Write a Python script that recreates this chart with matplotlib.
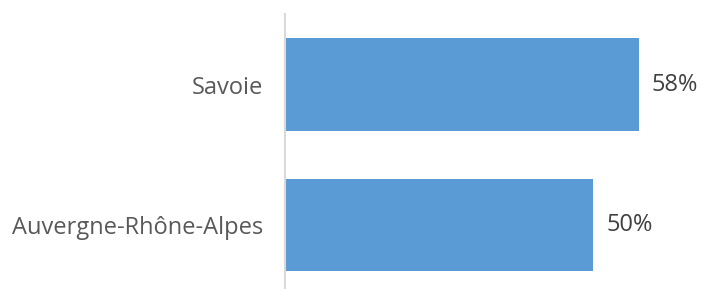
import matplotlib
matplotlib.use("Agg")
import matplotlib.pyplot as plt

categories = ["Auvergne-Rhône-Alpes", "Savoie"]
values = [0.505, 0.58]
value_labels = ["50%", "58%"]

fig = plt.figure(figsize=(7.01, 2.89), dpi=100)
W, H = 701, 289
ax = fig.add_axes([285 / W, 1 - 288 / H, (701 - 285) / W, (288 - 14) / H])
plt.rcParams['font.family'] = ['Open Sans', 'DejaVu Sans']

ypos = list(range(len(categories)))
ax.barh(ypos, values, height=0.66, color="#5B9BD5", zorder=2)
ax.set_xlim(0, 0.682)
ax.set_ylim(-0.448, 1.502)
ax.set_yticks(ypos)
ax.set_yticklabels(categories, fontsize=17, color="#595959", family=['Open Sans', 'DejaVu Sans'])
ax.tick_params(axis='y', length=0, pad=16)
ax.set_xticks([])
for s in ["top", "right", "bottom"]:
    ax.spines[s].set_visible(False)
ax.spines["left"].set_color("#D9D9D9")
ax.spines["left"].set_linewidth(1.5)

for y, v, lab in zip(ypos, values, value_labels):
    ax.annotate(lab, xy=(v, y), xytext=(13, 0), textcoords="offset pixels",
                va="center", ha="left", fontsize=17, color="#404040",
                family=['Open Sans', 'DejaVu Sans'])

fig.savefig("out.png", dpi=100)
